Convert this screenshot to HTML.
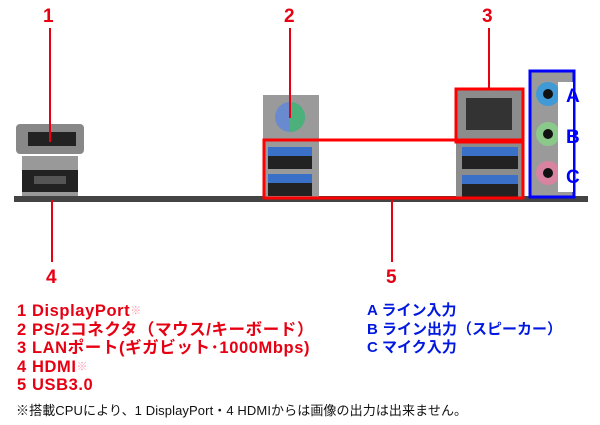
<!DOCTYPE html>
<html><head><meta charset="utf-8"><style>
body{margin:0;width:600px;height:425px;background:#fff;position:relative;overflow:hidden;font-family:"Liberation Sans","Noto Sans CJK JP",sans-serif}
.a{position:absolute}
.n{position:absolute;color:#e60012;font-size:19px;font-weight:bold}
.l{position:absolute;font-size:15px;font-weight:bold;line-height:18.5px;white-space:nowrap}
</style></head><body>
<svg class="a" style="left:0;top:0" width="600" height="300">
<rect x="14" y="196" width="574" height="6" fill="#444"/>
<rect x="16" y="124" width="68" height="30" rx="4" fill="#888"/><rect x="28" y="132" width="48" height="14" fill="#222"/>
<rect x="22" y="156" width="56" height="40" fill="#999"/><rect x="22" y="170" width="56" height="22" fill="#222"/><rect x="34" y="176" width="32" height="8" fill="#555"/>
<rect x="263" y="95" width="56" height="104" fill="#9a9a9a"/>
<circle cx="290" cy="117" r="15" fill="#6a8ad0"/><path d="M290 102 a15 15 0 0 1 0 30z" fill="#4cb07a"/>
<rect x="268" y="147" width="44" height="22" fill="#222"/><rect x="268" y="147" width="44" height="9" fill="#3a70c8"/>
<rect x="268" y="174" width="44" height="22" fill="#222"/><rect x="268" y="174" width="44" height="9" fill="#3a70c8"/>
<rect x="456" y="88" width="67" height="110" fill="#8c8c8c"/>
<rect x="466" y="98" width="46" height="32" fill="#333"/>
<rect x="462" y="147" width="56" height="22" fill="#222"/><rect x="462" y="147" width="56" height="9" fill="#3a70c8"/>
<rect x="462" y="175" width="56" height="22" fill="#222"/><rect x="462" y="175" width="56" height="9" fill="#3a70c8"/>
<rect x="529" y="70" width="45" height="128" fill="#9a9a9a"/>
<circle cx="548" cy="94" r="12" fill="#3f9ad6"/><circle cx="548" cy="94" r="5" fill="#111"/>
<circle cx="548" cy="134" r="12" fill="#8ac98a"/><circle cx="548" cy="134" r="5" fill="#111"/>
<circle cx="548" cy="173" r="12" fill="#d884a0"/><circle cx="548" cy="173" r="5" fill="#111"/>
<rect x="456" y="89" width="67" height="53" fill="none" stroke="#f00" stroke-width="3"/>
<rect x="264" y="140" width="259" height="58" fill="none" stroke="#f00" stroke-width="3"/>
<rect x="530" y="71" width="44" height="126" fill="none" stroke="#00f" stroke-width="3"/>
<rect x="558" y="82" width="15" height="110" fill="#fff"/>
<g stroke="#e60012" stroke-width="2">
<line x1="50" y1="28" x2="50" y2="142"/><line x1="290" y1="28" x2="290" y2="118"/>
<line x1="489" y1="28" x2="489" y2="89"/><line x1="52" y1="200" x2="52" y2="262"/>
<line x1="392" y1="200" x2="392" y2="262"/></g>
<g fill="#00f" font-weight="bold" font-size="19" font-family="Liberation Sans,sans-serif">
<text x="566" y="102">A</text><text x="566" y="143">B</text><text x="566" y="183">C</text></g>
</svg>
<div class="n" style="left:43px;top:6px">1</div>
<div class="n" style="left:284px;top:6px">2</div>
<div class="n" style="left:482px;top:6px">3</div>
<div class="n" style="left:46px;top:267px">4</div>
<div class="n" style="left:386px;top:267px">5</div>
<div class="l" style="left:17px;top:302px;color:#e60012;font-size:16.5px;letter-spacing:0.6px">1 DisplayPort<span style="color:#f9a;font-size:11px;vertical-align:top">※</span><br>2 PS/2コネクタ（マウス/キーボード）<br>3 LANポート(ギガビット･1000Mbps)<br>4 HDMI<span style="color:#f9a;font-size:11px;vertical-align:top">※</span><br>5 USB3.0</div>
<div class="l" style="left:367px;top:302px;color:#0018e0">A ライン入力<br>B ライン出力（スピーカー）<br>C マイク入力</div>
<div class="a" style="left:16px;top:400px;font-size:13px;color:#111;white-space:nowrap;letter-spacing:0.1px">※搭載CPUにより、1 DisplayPort・4 HDMIからは画像の出力は出来ません。</div>
</body></html>
